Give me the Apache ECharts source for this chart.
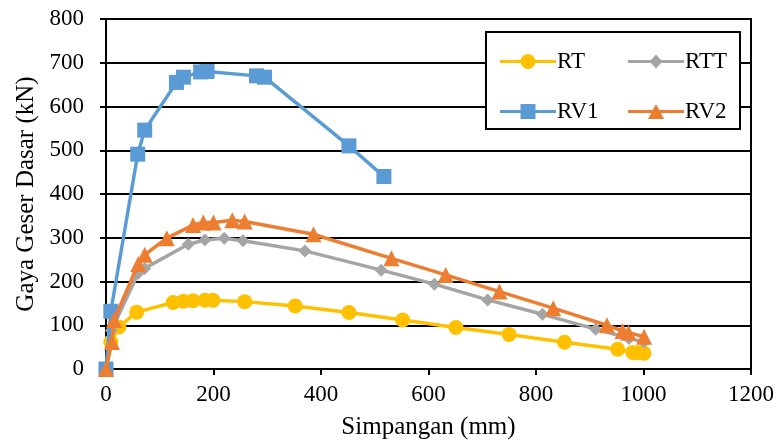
<!DOCTYPE html>
<html>
<head>
<meta charset="utf-8">
<script src="https://cdn.jsdelivr.net/npm/echarts@6/dist/echarts.min.js"></script>
<style>
html,body{margin:0;padding:0;background:#fff;}
#chart{width:777px;height:445px;}
</style>
</head>
<body>
<div id="chart"></div>
<script>
// Data (Simpangan mm, Gaya Geser Dasar kN)
const seriesNames = ['RT', 'RTT', 'RV1', 'RV2'];
const xTicks = [0, 200, 400, 600, 800, 1000, 1200];
const yTicks = [0, 100, 200, 300, 400, 500, 600, 700, 800];

const rtX = [0, 9, 24, 57, 125, 144, 162, 184, 199, 258, 352, 452, 552, 651, 750, 853, 952, 980, 990, 1001];
const rtY = [0, 62, 96, 130, 152, 155, 156, 157, 157, 154, 144, 129, 112, 95, 79, 61, 45, 38, 37, 36];

const rttX = [0, 10, 60, 72, 153, 184, 220, 255, 370, 512, 611, 710, 812, 911, 973, 1001];
const rttY = [0, 88, 219, 230, 285, 295, 299, 293, 270, 226, 194, 158, 125, 91, 70, 62];

const rv1X = [0, 9, 59, 72, 131, 144, 176, 188, 280, 295, 452, 517];
const rv1Y = [0, 132, 491, 546, 655, 667, 679, 680, 670, 667, 510, 440];

const rv2X = [0, 11, 15, 60, 72, 113, 162, 181, 200, 235, 258, 386, 531, 632, 732, 832, 932, 961, 972, 1001];
const rv2Y = [0, 62, 112, 240, 261, 299, 329, 335, 335, 340, 337, 308, 253, 215, 177, 139, 100, 87, 83, 74];

const colors = ['#FFC000', '#A5A5A5', '#5B9BD5', '#ED7D31'];
const symbols = ['circle', 'diamond', 'rect', 'triangle'];
const symbolSizes = [15, 13, 15, 16];

// Legend icons: a thick line with the series marker in its middle (56 x 15 box)
const BAR = 'M0 6 L56 6 L56 9 L0 9 Z ';
const legendIcons = [
  'path://' + BAR + 'M20.5 7.5 A7.5 7.5 0 1 1 35.5 7.5 A7.5 7.5 0 1 1 20.5 7.5 Z',
  'path://' + BAR + 'M28 0.5 L34.5 7.5 L28 14.5 L21.5 7.5 Z',
  'path://' + BAR + 'M20.5 0 L35.5 0 L35.5 15 L20.5 15 Z',
  'path://' + BAR + 'M28 0 L36 15 L20 15 Z'
];

function pairs(xs, ys) { return xs.map((x, i) => [x, ys[i]]); }
const allData = [pairs(rtX, rtY), pairs(rttX, rttY), pairs(rv1X, rv1Y), pairs(rv2X, rv2Y)];

const FONT = '"Liberation Serif", "Times New Roman", serif';

const chart = echarts.init(document.getElementById('chart'), null, {renderer: 'canvas'});

const series = seriesNames.map((name, i) => ({
  name: name,
  type: 'line',
  data: allData[i],
  symbol: symbols[i],
  symbolSize: symbolSizes[i],
  showAllSymbol: true,
  lineStyle: {color: colors[i], width: 3.5},
  itemStyle: {color: colors[i], borderWidth: 0},
  emphasis: {disabled: true},
  animation: false,
  z: 2 + i
}));

function legendItem(i) {
  return {name: seriesNames[i], icon: legendIcons[i]};
}

const legendCommon = {
  orient: 'vertical',
  top: 45,
  itemWidth: 56,
  itemHeight: 15,
  itemGap: 27,
  textStyle: {fontFamily: FONT, fontSize: 23, color: '#000', padding: [0, 0, 0, -4]},
  selectedMode: false
};

chart.setOption({
  animation: false,
  backgroundColor: '#fff',
  grid: {left: 106, right: 25, top: 19, bottom: 76, show: true, borderColor: '#000', borderWidth: 2, backgroundColor: 'transparent'},
  xAxis: {
    type: 'value',
    min: xTicks[0], max: xTicks[xTicks.length - 1], interval: 200,
    name: 'Simpangan (mm)',
    nameLocation: 'middle',
    nameGap: 46,
    nameTextStyle: {fontFamily: FONT, fontSize: 25, color: '#000'},
    axisLine: {show: true, lineStyle: {color: '#000', width: 2}},
    axisTick: {show: true, length: 6, lineStyle: {color: '#000', width: 2}},
    axisLabel: {fontFamily: FONT, fontSize: 23, color: '#000', margin: 14, formatter: v => String(v)},
    splitLine: {show: false}
  },
  yAxis: {
    type: 'value',
    min: yTicks[0], max: yTicks[yTicks.length - 1], interval: 100,
    name: 'Gaya Geser Dasar (kN)',
    nameLocation: 'middle',
    nameGap: 67,
    nameTextStyle: {fontFamily: FONT, fontSize: 25, color: '#000'},
    axisLine: {show: true, lineStyle: {color: '#000', width: 2}},
    axisTick: {show: true, length: 6, lineStyle: {color: '#000', width: 2}},
    axisLabel: {fontFamily: FONT, fontSize: 23, color: '#000', margin: 22, formatter: v => String(v)},
    splitLine: {show: true, lineStyle: {color: '#000', width: 2}}
  },
  graphic: [{
    type: 'rect',
    shape: {x: 486, y: 32, width: 254, height: 97},
    style: {fill: '#fff', stroke: '#000', lineWidth: 2},
    z: 50
  }],
  legend: [
    Object.assign({}, legendCommon, {left: 495, data: [legendItem(0), legendItem(2)], z: 60}),
    Object.assign({}, legendCommon, {left: 623, data: [legendItem(1), legendItem(3)], z: 60})
  ],
  series: series
});
</script>
</body>
</html>
